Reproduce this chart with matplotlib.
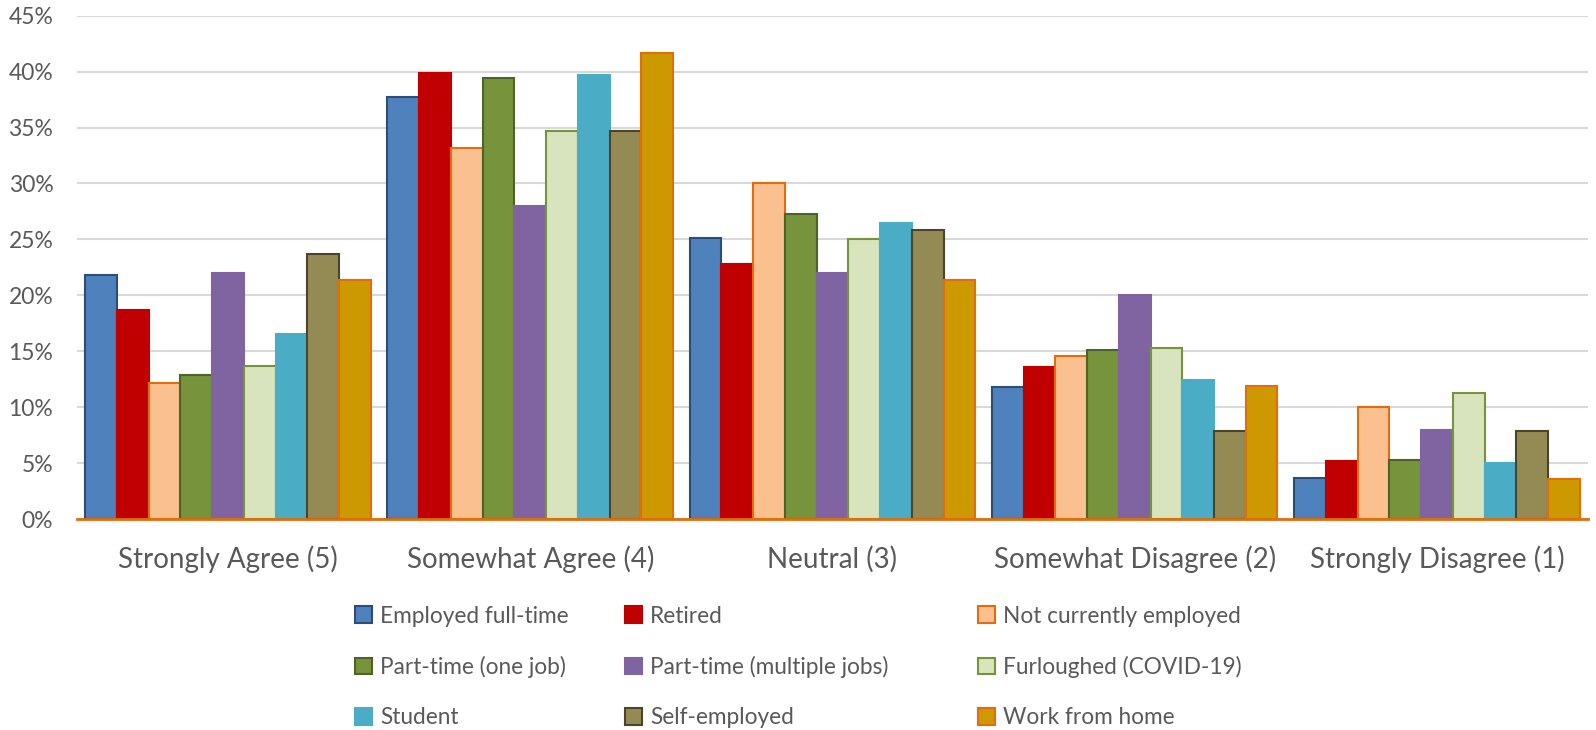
import matplotlib.pyplot as plt
import numpy as np
from matplotlib.ticker import PercentFormatter

categories = ['Strongly Agree (5)', 'Somewhat Agree (4)', 'Neutral (3)',
              'Somewhat Disagree (2)', 'Strongly Disagree (1)']

employed_ft = [21.8, 37.7, 25.1, 11.8, 3.7]
retired = [18.7, 39.9, 22.8, 13.6, 5.2]
not_employed = [12.2, 33.2, 30.0, 14.6, 10.0]
pt_one = [12.9, 39.4, 27.3, 15.1, 5.3]
pt_multi = [22.0, 28.0, 22.0, 20.0, 8.0]
furloughed = [13.7, 34.7, 25.0, 15.3, 11.3]
student = [16.5, 39.7, 26.5, 12.4, 5.0]
self_employed = [23.7, 34.7, 25.8, 7.9, 7.9]
wfh = [21.4, 41.7, 21.4, 11.9, 3.6]

series = [
    ('Employed full-time', employed_ft, '#4F81BD', '#2C4D75'),
    ('Retired', retired, '#C00000', '#C00000'),
    ('Not currently employed', not_employed, '#FAC090', '#E46C0A'),
    ('Part-time (one job)', pt_one, '#77933C', '#4F6228'),
    ('Part-time (multiple jobs)', pt_multi, '#8064A2', '#8064A2'),
    ('Furloughed (COVID-19)', furloughed, '#D7E4BD', '#77933C'),
    ('Student', student, '#4BACC6', '#4BACC6'),
    ('Self-employed', self_employed, '#948A54', '#4A452A'),
    ('Work from home', wfh, '#CC9900', '#E46C0A'),
]

plt.rcParams['font.family'] = ['Lato', 'DejaVu Sans']

fig = plt.figure(figsize=(15.96, 7.30), dpi=100)
ax = fig.add_axes([0.0482, 0.289, 0.9468, 0.6895])

x = np.arange(len(categories))
w = 0.105
for i, (name, vals, fc, ec) in enumerate(series):
    ax.bar(x + (i - 4) * w, vals, w, color=fc, edgecolor=ec, linewidth=1.5,
           label=name, zorder=3)

ax.set_xlim(-0.5, 4.5)
ax.set_ylim(0, 45)
ax.set_yticks(np.arange(0, 46, 5))
ax.yaxis.set_major_formatter(PercentFormatter(decimals=0))
ax.grid(axis='y', color='#D9D9D9', linewidth=1.5, zorder=0)
ax.set_xticks(x)
ax.set_xticklabels(categories, fontsize=20)
ax.tick_params(axis='both', length=0, labelcolor='#595959')
ax.tick_params(axis='y', labelsize=16.5, pad=17)
ax.tick_params(axis='x', pad=19)
for s in ['top', 'right', 'left']:
    ax.spines[s].set_visible(False)
ax.spines['bottom'].set_color('#E46C0A')
ax.spines['bottom'].set_linewidth(2)
ax.spines['bottom'].set_zorder(4)

# legend as three single-column blocks to mimic the uneven column widths
handles, labels = ax.get_legend_handles_labels()
cols = [[0, 3, 6], [1, 4, 7], [2, 5, 8]]
col_x = [355, 625, 978]
for idx, cx in zip(cols, col_x):
    leg = fig.legend([handles[k] for k in idx], [labels[k] for k in idx],
                     loc='center left', bbox_to_anchor=(cx / 1596, 0.0863),
                     frameon=False, fontsize=16.3, handlelength=0.75,
                     handleheight=0.75, handletextpad=0.35, labelspacing=1.3,
                     borderaxespad=0, borderpad=0)
    for t in leg.get_texts():
        t.set_color('#595959')

fig.savefig('out.png', dpi=100)
